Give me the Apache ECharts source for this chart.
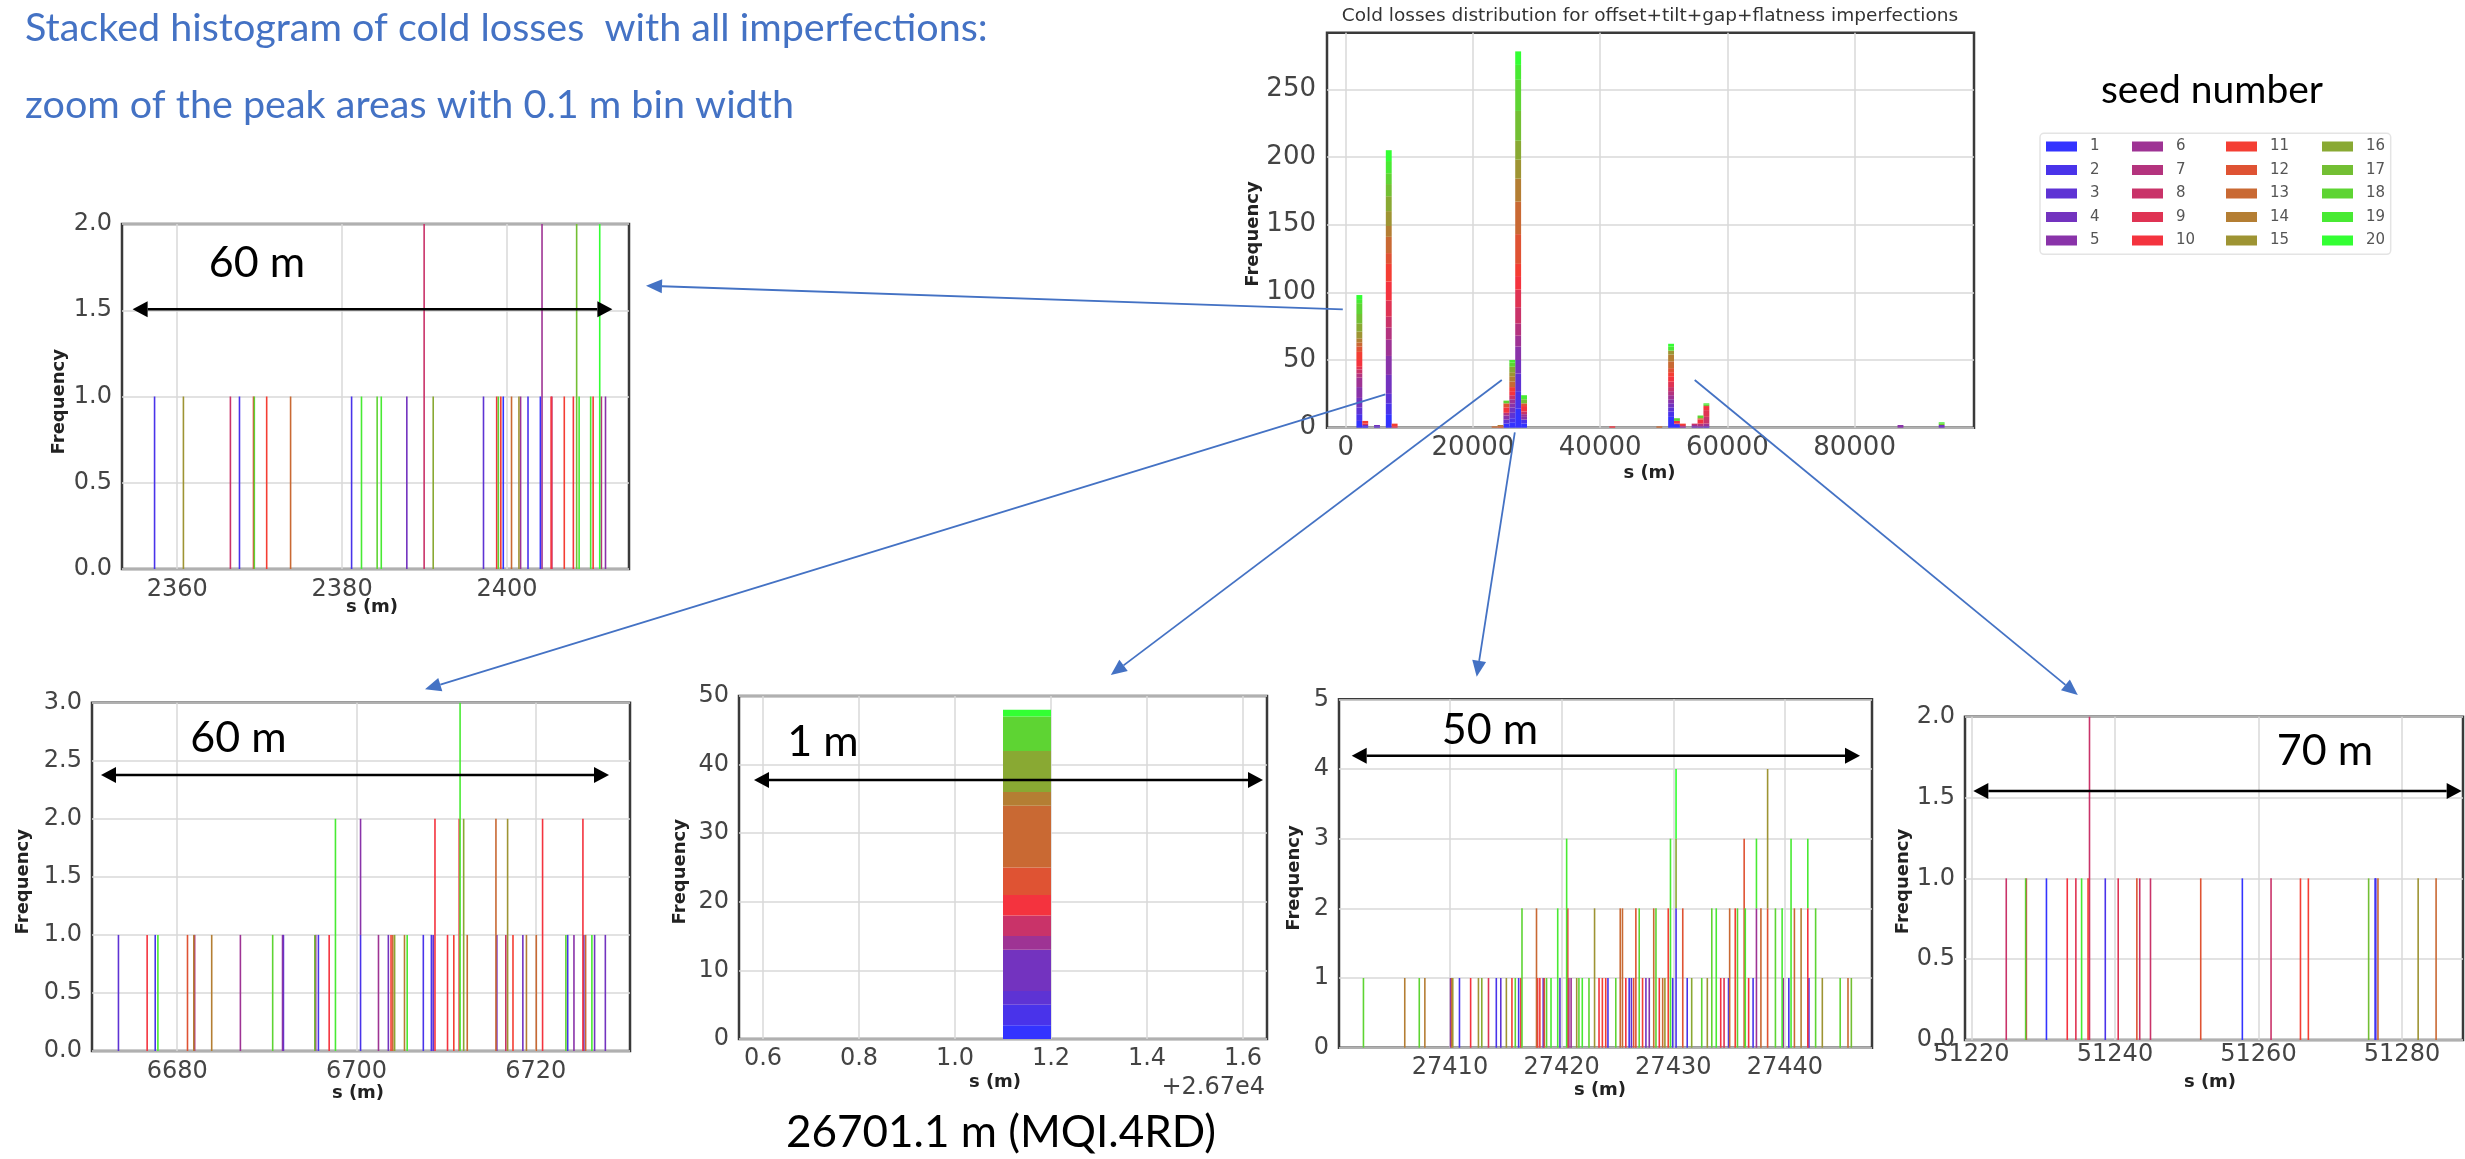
<!DOCTYPE html>
<html>
<head>
<meta charset="utf-8">
<script src="https://cdn.jsdelivr.net/npm/echarts@6/dist/echarts.min.js"></script>
<style>
  html, body { margin: 0; padding: 0; background: #ffffff; }
  #chart { width: 2465px; height: 1159px; }
</style>
</head>
<body>
<div id="chart"></div>
<script>
// ---------------- data ----------------
const seedNames = ['1','2','3','4','5','6','7','8','9','10','11','12','13','14','15','16','17','18','19','20'];
// blue -> red -> green ramp, 80 % opacity on white
const seedColors = ['#3333ff','#4933ea','#5e33d4','#7333bf','#8933a9','#9e3394','#b4337e','#c93369','#df3353','#f4333e',
                    '#f43e33','#df5333','#c96933','#b47e33','#9e9433','#89a933','#73bf33','#5ed433','#48ea33','#33ff33'];

// Overview histogram: 100 bins between the first and the last cold loss
const overviewRange = [1683, 94147];
const overviewBinCount = 100;
const overviewBins = [0, 1, 3, 5, 6, 23, 24, 25, 26, 27, 28, 43, 51, 53, 54, 55, 57, 58, 59, 92, 99];
// losses per seed (1..20) in each listed bin
const overviewCounts = [
  [5,5,5,7,8,7,3,3,2,5,6,4,3,3,5,6,7,8,3,3],
  [1,0,0,1,0,0,0,0,1,0,2,0,0,0,0,0,0,0,0,0],
  [0,0,1,1,0,0,0,0,0,0,0,0,0,0,0,0,0,0,0,0],
  [10,8,7,14,14,12,9,8,12,14,13,8,12,8,11,11,9,8,9,8],
  [0,0,0,0,0,0,0,0,1,0,2,0,0,0,0,0,0,0,0,0],
  [0,0,0,0,0,0,0,0,0,0,0,0,1,0,0,0,0,0,0,0],
  [0,0,0,0,0,0,0,0,0,0,0,1,0,1,0,0,0,0,0,0],
  [3,0,3,0,3,0,2,0,0,4,0,3,0,0,0,0,0,2,0,0],
  [4,3,4,4,3,3,0,3,0,3,3,0,4,4,3,4,0,3,2,0],
  [14,13,13,10,10,8,9,12,13,10,9,22,24,17,14,14,22,23,11,10],
  [3,3,0,0,2,2,0,2,0,4,0,2,0,0,0,0,3,0,3,0],
  [0,0,0,0,0,0,0,0,0,1,0,0,0,0,0,0,0,0,0,0],
  [0,0,0,0,0,0,0,0,0,0,0,0,1,0,0,0,0,0,0,0],
  [8,4,3,3,3,3,3,3,4,4,3,3,5,5,3,0,0,0,3,2],
  [2,0,1,0,0,0,0,0,0,2,0,0,0,0,0,0,0,2,0,0],
  [0,0,0,0,1,0,0,0,1,0,1,0,0,0,0,0,0,0,0,0],
  [0,0,0,1,0,1,0,1,0,0,0,0,0,0,0,0,0,0,0,0],
  [0,0,0,1,0,0,2,0,0,3,0,1,0,0,0,0,0,2,0,0],
  [0,0,1,0,0,2,0,5,5,3,0,0,0,0,0,0,1,0,1,0],
  [0,0,0,0,2,0,0,0,0,0,0,0,0,0,0,0,0,0,0,0],
  [0,0,0,2,0,0,0,0,0,0,0,0,0,0,0,0,1,0,1,0]
];

// Zoomed peaks, 0.1 m bins: [bin start (m), seed, losses]
const binWidthZoom = 0.1;
const peak2380 = [
  [2357.2,2,1],[2360.7,15,1],[2366.4,8,1],[2367.5,2,1],[2369.2,10,1],[2369.3,18,1],[2370.8,11,1],
  [2373.7,13,1],[2381.1,2,1],[2382.3,19,1],[2384.2,18,1],[2384.7,19,1],[2387.8,4,1],[2389.9,8,2],
  [2391.0,16,1],[2397.1,3,1],[2398.7,10,1],[2398.9,18,1],[2399.2,11,1],[2399.5,1,1],[2400.5,13,1],
  [2401.4,15,1],[2401.6,6,1],[2402.5,2,1],[2404.0,1,1],[2404.2,6,2],[2405.3,10,1],[2405.4,8,1],
  [2406.9,11,1],[2408.0,10,1],[2408.4,17,2],[2408.7,19,1],[2410.1,19,1],[2410.4,11,1],[2411.2,20,2],
  [2411.4,7,1],[2411.9,5,1]
];
const peak6700 = [
  [6673.4,3,1],[6676.6,10,1],[6677.5,2,1],[6677.8,19,1],[6681.1,12,1],[6681.8,14,1],[6681.9,7,1],
  [6683.8,14,1],[6687.0,6,1],[6690.6,18,1],[6691.7,5,1],[6691.8,3,1],[6695.3,17,1],[6695.4,6,1],
  [6695.7,2,1],[6696.9,10,1],[6697.6,19,2],[6700.4,2,1],[6700.4,5,1],[6702.4,6,1],[6703.5,4,1],
  [6703.8,11,1],[6704.0,13,1],[6704.2,16,1],[6705.3,14,1],[6705.6,19,1],[6707.4,2,1],[6708.3,2,1],
  [6708.5,3,1],[6708.7,10,2],[6710.1,10,1],[6710.8,11,1],[6711.4,10,2],[6711.5,19,3],[6711.9,16,2],
  [6712.3,13,1],[6715.5,13,2],[6715.6,4,1],[6716.6,8,1],[6716.8,15,2],[6717.4,11,1],[6718.5,4,1],
  [6718.9,14,1],[6720.0,13,1],[6720.7,10,2],[6723.3,18,1],[6723.5,2,1],[6724.2,5,1],[6725.2,10,2],
  [6725.3,2,1],[6725.5,13,1],[6726.2,19,1],[6726.5,4,1],[6727.7,4,1]
];
const peak26701 = [
  [26701.1,1,2],[26701.1,2,3],[26701.1,3,2],[26701.1,4,6],[26701.1,6,2],[26701.1,8,3],[26701.1,10,3],
  [26701.1,12,4],[26701.1,13,9],[26701.1,14,2],[26701.1,16,6],[26701.1,18,5],[26701.1,20,1]
];
const peak27425 = [
  [27402.2,18,1],[27405.9,14,1],[27407.2,18,1],[27407.7,14,1],[27410.0,5,1],[27410.1,13,1],[27410.2,15,1],
  [27410.8,2,1],[27411.8,10,1],[27412.5,15,1],[27412.8,16,1],[27413.4,9,1],[27414.1,2,1],[27414.5,3,1],
  [27415.0,15,1],[27415.5,11,1],[27415.8,18,1],[27416.1,2,1],[27416.3,10,1],[27416.4,18,2],[27417.7,13,2],
  [27417.8,10,1],[27418.0,11,1],[27418.3,3,1],[27418.4,12,1],[27418.6,18,1],[27419.0,19,1],[27419.6,19,2],
  [27419.8,3,1],[27420.4,19,3],[27420.5,10,2],[27420.6,6,1],[27420.8,6,1],[27421.3,15,1],[27421.5,18,1],
  [27421.8,19,1],[27422.4,18,1],[27422.9,15,2],[27423.3,10,1],[27423.6,11,1],[27423.9,11,1],[27424.1,2,1],
  [27424.8,18,1],[27425.2,13,2],[27425.4,13,2],[27425.7,10,1],[27426.0,2,1],[27426.2,3,1],[27426.4,12,1],
  [27426.6,12,2],[27426.9,18,2],[27427.2,11,1],[27427.5,4,1],[27427.8,5,1],[27428.2,13,2],[27428.4,18,2],
  [27428.7,10,1],[27429.0,13,1],[27429.2,15,1],[27429.5,11,2],[27429.7,19,3],[27429.9,2,1],[27430.2,2,2],
  [27430.2,16,1],[27430.2,20,1],[27430.8,12,2],[27431.2,2,1],[27431.6,16,1],[27432.5,18,1],[27433.0,15,1],
  [27433.4,18,2],[27433.8,19,2],[27434.2,10,1],[27434.5,9,1],[27434.9,2,1],[27435.0,13,2],[27435.5,11,2],
  [27435.7,18,2],[27436.3,12,3],[27436.4,19,2],[27436.7,10,1],[27437.1,2,1],[27437.4,6,2],[27437.4,19,1],
  [27437.8,13,2],[27438.4,12,2],[27438.4,15,2],[27439.1,18,2],[27439.7,19,2],[27439.8,6,1],[27440.3,2,1],
  [27440.5,19,3],[27440.8,13,2],[27441.4,14,2],[27442.0,10,2],[27442.0,19,1],[27442.1,2,1],[27442.7,18,2],
  [27443.3,15,1],[27444.9,18,1],[27445.6,13,1],[27445.9,17,1]
];
const peak51255 = [
  [51224.8,8,1],[51227.5,18,1],[51227.6,9,1],[51230.4,1,1],[51233.3,10,1],[51234.5,9,1],[51235.3,19,1],
  [51236.2,11,1],[51236.4,8,2],[51238.6,2,1],[51240.4,9,1],[51243.0,12,1],[51243.4,8,1],[51244.9,8,1],
  [51251.9,12,1],[51257.7,1,1],[51261.7,8,1],[51265.8,11,1],[51266.9,11,1],[51275.3,17,1],[51276.2,1,1],
  [51276.3,2,1],[51276.6,13,1],[51282.2,15,1],[51284.7,13,1]
];

// axis limits and tick values
const overviewXRange = [-2940, 98770], overviewXTicks = [0, 20000, 40000, 60000, 80000];
const overviewYRange = [0, 291.8],     overviewYTicks = [0, 50, 100, 150, 200, 250];
const xRange2380 = [2353.3, 2414.8],   xTicks2380 = [2360, 2380, 2400];
const yRange2380 = [0, 2],             yTicks2380 = [0, 0.5, 1, 1.5, 2];
const xRange6700 = [6670.5, 6730.5],   xTicks6700 = [6680, 6700, 6720];
const yRange6700 = [0, 3],             yTicks6700 = [0, 0.5, 1, 1.5, 2, 2.5, 3];
const xOffset26701 = 26700;
const xRange26701 = [26700.55, 26701.65], xTicks26701 = [26700.6, 26700.8, 26701.0, 26701.2, 26701.4, 26701.6];
const yRange26701 = [0, 50],           yTicks26701 = [0, 10, 20, 30, 40, 50];
const xRange27425 = [27400.06, 27447.8], xTicks27425 = [27410, 27420, 27430, 27440];
const yRange27425 = [0, 5],            yTicks27425 = [0, 1, 2, 3, 4, 5];
const xRange51255 = [51219.1, 51288.5], xTicks51255 = [51220, 51240, 51260, 51280];
const yRange51255 = [0, 2],            yTicks51255 = [0, 0.5, 1, 1.5, 2];

// ---------------- drawing ----------------
const MPL_FONT = 'DejaVu Sans';
const SLIDE_FONT = 'Lato';
const TICK_COLOR = '#444';
const GRID_LINE = '#d9d9d9';
const FRAME = '#3a3a3a';

const grids = [
  { left: 1327, top: 32.7, width: 647, height: 395 },   // overview
  { left: 122,  top: 224,  width: 507, height: 345 },   // ~2380 m
  { left: 92,   top: 702.7, width: 538, height: 348.3 },// ~6700 m
  { left: 739,  top: 696,  width: 528, height: 343 },   // 26701.1 m
  { left: 1339, top: 699.3, width: 533, height: 348.4 },// ~27425 m
  { left: 1965, top: 716.7, width: 498, height: 323.3 } // ~51255 m
].map(g => Object.assign({ show: true, borderColor: FRAME, borderWidth: 2.5, backgroundColor: '#fff', containLabel: false }, g));

function axisDef(idx, range, ticks, fmt, margin, fontSize) {
  return {
    type: 'value', gridIndex: idx, min: range[0], max: range[1],
    axisLine: { show: false },
    axisTick: { show: false, customValues: ticks },
    axisLabel: { customValues: ticks, formatter: fmt, color: TICK_COLOR, fontFamily: MPL_FONT, fontSize: fontSize, margin: margin },
    splitLine: { show: true, lineStyle: { color: GRID_LINE, width: 1.5 } }
  };
}
const intFmt = v => String(Math.round(v));
const oneDec = v => v.toFixed(1);

const xAxes = [
  axisDef(0, overviewXRange, overviewXTicks, intFmt, 8, 26),
  axisDef(1, xRange2380, xTicks2380, intFmt, 9, 24),
  axisDef(2, xRange6700, xTicks6700, intFmt, 9, 24),
  axisDef(3, xRange26701, xTicks26701, v => (v - xOffset26701).toFixed(1), 8, 24),
  axisDef(4, xRange27425, xTicks27425, intFmt, 8, 24),
  axisDef(5, xRange51255, xTicks51255, intFmt, 3, 24)
];
const yAxes = [
  axisDef(0, overviewYRange, overviewYTicks, intFmt, 11, 26),
  axisDef(1, yRange2380, yTicks2380, oneDec, 10, 24),
  axisDef(2, yRange6700, yTicks6700, oneDec, 10, 24),
  axisDef(3, yRange26701, yTicks26701, intFmt, 10, 24),
  axisDef(4, yRange27425, yTicks27425, intFmt, 10, 24),
  axisDef(5, yRange51255, yTicks51255, oneDec, 10, 24)
];

// each bin drawn as a rectangle between its stacked base and top, at least minPx wide
function renderBin(minPx) {
  return function (params, api) {
    const p0 = api.coord([api.value(0), api.value(2)]);
    const p1 = api.coord([api.value(1), api.value(3)]);
    let x = p0[0], w = p1[0] - p0[0];
    if (w < minPx) { x -= (minPx - w) / 2; w = minPx; }
    const cs = params.coordSys;
    const shape = echarts.graphic.clipRectByRect(
      { x: x, y: p1[1], width: w, height: p0[1] - p1[1] },
      { x: cs.x, y: cs.y, width: cs.width, height: cs.height });
    if (!shape) return;
    return { type: 'rect', shape: shape, style: { fill: api.visual('color') } };
  };
}

// stack the seeds of every bin in seed order and make one series per seed
function stackedSeries(gridIdx, entries, binW, minPx) {
  const base = new Map();
  const perSeed = seedNames.map(() => []);
  entries.slice().sort((a, b) => a[1] - b[1]).forEach(e => {
    const key = e[0].toFixed(3);
    const b = base.get(key) || 0;
    perSeed[e[1] - 1].push([e[0], e[0] + binW, b, b + e[2]]);
    base.set(key, b + e[2]);
  });
  return perSeed.map((data, k) => ({
    type: 'custom', name: seedNames[k], xAxisIndex: gridIdx, yAxisIndex: gridIdx,
    data: data, encode: { x: [0, 1], y: [2, 3] },
    itemStyle: { color: seedColors[k] },
    renderItem: renderBin(minPx), silent: true, z: 3
  }));
}

const overviewBinW = (overviewRange[1] - overviewRange[0]) / overviewBinCount;
const overviewEntries = [];
overviewBins.forEach((bin, i) => {
  overviewCounts[i].forEach((n, s) => {
    if (n > 0) overviewEntries.push([overviewRange[0] + bin * overviewBinW, s + 1, n]);
  });
});

const series = [].concat(
  stackedSeries(0, overviewEntries, overviewBinW, 1),
  stackedSeries(1, peak2380, binWidthZoom, 1.6),
  stackedSeries(2, peak6700, binWidthZoom, 1.6),
  stackedSeries(3, peak26701, binWidthZoom, 1),
  stackedSeries(4, peak27425, binWidthZoom, 1.6),
  stackedSeries(5, peak51255, binWidthZoom, 1.6)
);

// seed legend, four columns of five
const legendCols = [2046, 2132, 2226, 2322];
const legends = legendCols.map((x, c) => ({
  orient: 'vertical', left: x, top: 138.5, padding: 0,
  itemWidth: 31, itemHeight: 10, itemGap: 7.5, icon: 'rect', selectedMode: false,
  data: seedNames.slice(c * 5, c * 5 + 5),
  textStyle: { fontFamily: MPL_FONT, fontSize: 15, color: '#555', lineHeight: 16, padding: [0, 0, 0, 8] }
}));

// ---------------- annotations ----------------
const graphics = [];
function text(str, x, y, font, color, opts) {
  graphics.push(Object.assign({
    type: 'text', x: x, y: y, z: 100,
    style: Object.assign({ text: str, font: font, fill: color, align: 'center', verticalAlign: 'middle' }, (opts && opts.style) || {})
  }, opts && opts.rotation ? { rotation: opts.rotation } : {}));
}
function head(tip, from, len, halfW, color) {
  const dx = tip[0] - from[0], dy = tip[1] - from[1], d = Math.hypot(dx, dy);
  const ux = dx / d, uy = dy / d;
  const bx = tip[0] - ux * len, by = tip[1] - uy * len;
  graphics.push({ type: 'polygon', z: 100,
    shape: { points: [tip, [bx - uy * halfW, by + ux * halfW], [bx + uy * halfW, by - ux * halfW]] },
    style: { fill: color } });
  return [bx, by];
}
function arrow(from, to, color, width, len, halfW) {
  const b = head(to, from, len, halfW, color);
  graphics.push({ type: 'line', z: 100, shape: { x1: from[0], y1: from[1], x2: b[0], y2: b[1] },
    style: { stroke: color, lineWidth: width } });
}
function doubleArrow(x1, x2, y) {
  const a = head([x1, y], [x2, y], 15, 8, '#000');
  const b = head([x2, y], [x1, y], 15, 8, '#000');
  graphics.push({ type: 'line', z: 100, shape: { x1: a[0], y1: y, x2: b[0], y2: y },
    style: { stroke: '#000', lineWidth: 2.5 } });
}

// slide header
const BLUE = '#4472c4';
text('Stacked histogram of cold losses  with all imperfections:', 25, 28, '39.5px ' + SLIDE_FONT, BLUE, { style: { align: 'left' } });
text('zoom of the peak areas with 0.1 m bin width', 25, 105, '39.5px ' + SLIDE_FONT, BLUE, { style: { align: 'left' } });

// overview title and axis names
text('Cold losses distribution for offset+tilt+gap+flatness imperfections', 1650, 16, '18.5px ' + MPL_FONT, '#333');
const boldFont = 'bold 18px ' + MPL_FONT;
const freqLabels = [[1253, 234], [59, 401.7], [23.8, 881.7], [680.8, 871.7], [1294.8, 878], [1903, 881.5]];
freqLabels.forEach(p => text('Frequency', p[0], p[1], boldFont, '#222', { rotation: Math.PI / 2 }));
const sLabels = [[1649.5, 473], [372, 607], [358, 1093], [995, 1082], [1600, 1090], [2210, 1082]];
sLabels.forEach(p => text('s (m)', p[0], p[1], boldFont, '#222'));
text('+2.67e4', 1265, 1088, '24px ' + MPL_FONT, TICK_COLOR, { style: { align: 'right' } });

// legend title and frame
text('seed number', 2212, 90, '39px ' + SLIDE_FONT, '#000');
graphics.push({ type: 'rect', z: 1, shape: { x: 2040, y: 133.3, width: 350.7, height: 121, r: 4 },
  style: { fill: '#fff', stroke: '#e4e4e4', lineWidth: 1.5 } });

// span markers inside the zoom panels
doubleArrow(132.6, 612.4, 309.3);
doubleArrow(101, 609, 775);
doubleArrow(754, 1263, 780);
doubleArrow(1351.7, 1860, 755.7);
doubleArrow(1973.3, 2461.7, 791);
const SPAN_FONT = '43px ' + SLIDE_FONT;
text('60 m', 257, 263, SPAN_FONT, '#000');
text('60 m', 238.5, 738, SPAN_FONT, '#000');
text('1 m', 823, 742.5, SPAN_FONT, '#000');
text('50 m', 1490, 730, SPAN_FONT, '#000');
text('70 m', 2325, 751, SPAN_FONT, '#000');
text('26701.1 m (MQI.4RD)', 1001, 1133, '44px ' + SLIDE_FONT, '#000');

// connectors from the overview peaks to their zooms
arrow([1342.8, 309.3], [646, 285.7], BLUE, 1.8, 16, 7);
arrow([1385.4, 394.3], [425, 689.3], BLUE, 1.8, 16, 7);
arrow([1501.8, 380], [1110.8, 675], BLUE, 1.8, 16, 7);
arrow([1514.8, 432.3], [1476.7, 676.7], BLUE, 1.8, 16, 7);
arrow([1694.7, 380], [2077.8, 695], BLUE, 1.8, 16, 7);

const chart = echarts.init(document.getElementById('chart'), null, { renderer: 'canvas' });
chart.setOption({
  animation: false,
  backgroundColor: '#ffffff',
  textStyle: { fontFamily: MPL_FONT },
  grid: grids,
  xAxis: xAxes,
  yAxis: yAxes,
  legend: legends,
  series: series,
  graphic: { elements: graphics }
});
</script>
</body>
</html>
